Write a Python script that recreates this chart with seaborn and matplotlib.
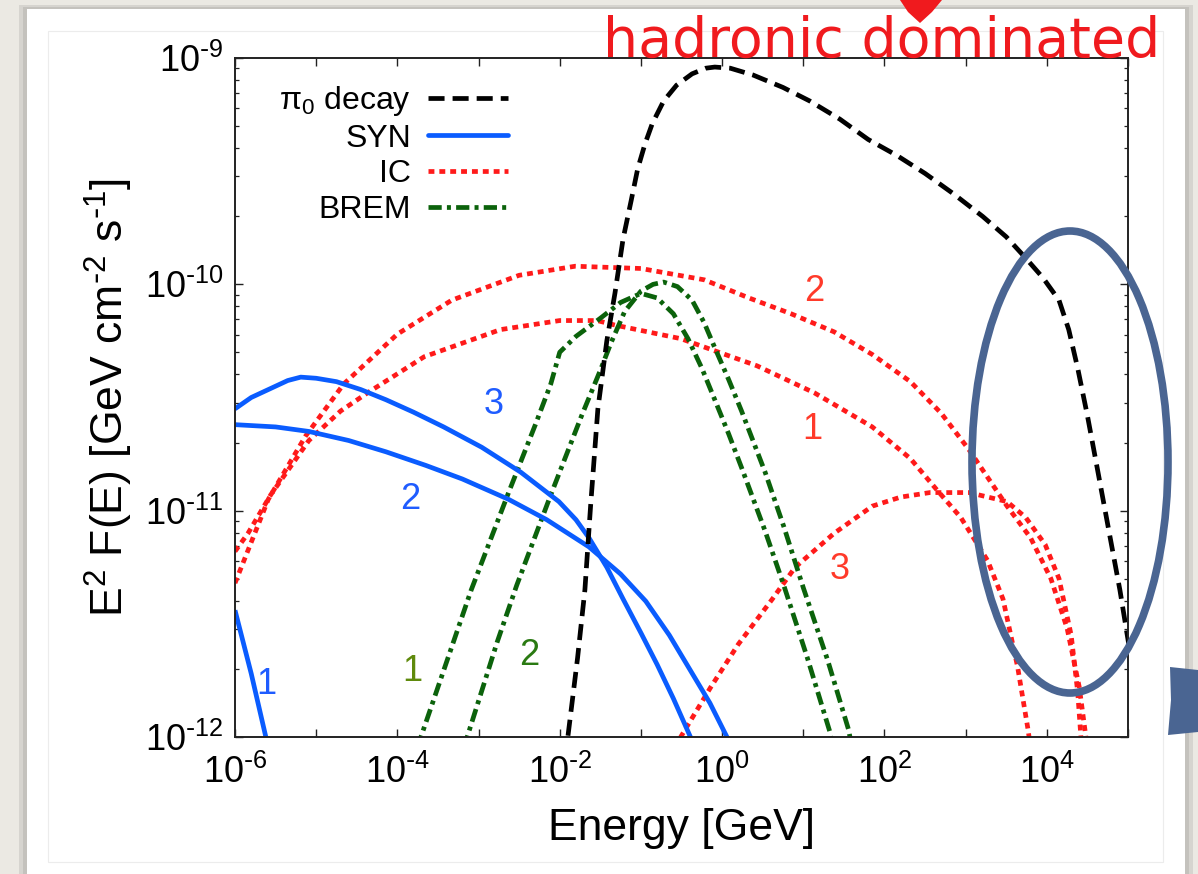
import matplotlib
matplotlib.use("Agg")
import matplotlib.pyplot as plt
import numpy as np
import pandas as pd
import seaborn as sns
from matplotlib.lines import Line2D
from matplotlib.patches import Ellipse, Polygon, Rectangle
from matplotlib.ticker import FixedLocator, FuncFormatter, LogLocator, NullLocator

sns.set_style("ticks")
plt.rcParams["font.family"] = ["Liberation Sans", "DejaVu Sans"]
plt.rcParams["mathtext.default"] = "regular"
plt.rcParams["text.color"] = "black"
plt.rcParams["axes.labelcolor"] = "black"

# values: log10(E / GeV) and log10(E^2 F(E) / GeV cm-2 s-1)
pi0_loge = [-1.93, -1.90, -1.78, -1.69, -1.62, -1.53, -1.42, -1.32, -1.22, -1.12, -1.04, -0.95,
            -0.86, -0.72, -0.56, -0.37, -0.2, -0.09, 0.1, 0.38, 0.75, 1.08, 1.45, 1.80, 2.15,
            2.50, 2.85, 3.21, 3.5, 3.73, 3.95, 4.15, 4.27, 4.38, 4.5, 4.62, 4.76, 4.90, 5.0, 5.05]
pi0_logf = [-12.1, -12.0, -11.65, -11.35, -10.98, -10.55, -10.25, -10.04, -9.80, -9.63, -9.49, -9.38,
            -9.29, -9.19, -9.12, -9.07, -9.045, -9.04, -9.045, -9.075, -9.13, -9.19, -9.27, -9.36, -9.43,
            -9.51, -9.6, -9.70, -9.79, -9.88, -9.97, -10.07, -10.2, -10.37, -10.58, -10.81, -11.08, -11.35, -11.57, -11.68]

syn1_loge = [-6.0, -5.8, -5.62, -5.59]
syn1_logf = [-11.44, -11.72, -12.0, -12.05]
syn2_loge = [-6.0, -5.5, -5.09, -4.6, -4.14, -3.65, -3.2, -2.63, -2.16, -1.64, -1.25, -0.94,
             -0.65, -0.4, -0.15, 0.06, 0.1]
syn2_logf = [-10.62, -10.63, -10.65, -10.69, -10.74, -10.8, -10.86, -10.95, -11.04, -11.16, -11.28, -11.40,
             -11.55, -11.7, -11.85, -12.0, -12.05]
syn3_loge = [-6.0, -5.8, -5.56, -5.35, -5.19, -5.0, -4.75, -4.45, -4.14, -3.8, -3.43, -2.96, -2.48,
             -2.01, -1.8, -1.64, -1.42, -1.22, -1.0, -0.8, -0.6, -0.39, -0.35]
syn3_logf = [-10.55, -10.5, -10.46, -10.425, -10.41, -10.415, -10.43, -10.465, -10.51, -10.565, -10.63, -10.72, -10.83,
             -10.96, -11.04, -11.12, -11.25, -11.39, -11.54, -11.68, -11.83, -12.0, -12.05]

ic1_loge = [-6.0, -5.84, -5.56, -5.09, -4.7, -4.37, -3.67, -2.73, -2.0, -1.54, -1.32, -0.51, 0.43,
            1.14, 1.85, 2.32, 2.65, 2.94, 3.27, 3.46, 3.64, 3.77, 3.8]
ic1_logf = [-11.18, -11.10, -10.93, -10.69, -10.56, -10.48, -10.32, -10.20, -10.16, -10.16, -10.18, -10.24, -10.36,
            -10.48, -10.63, -10.77, -10.91, -11.03, -11.22, -11.39, -11.69, -11.97, -12.05]
ic2_loge = [-6.0, -5.59, -5.13, -4.66, -4.0, -3.33, -2.5, -1.81, -1.0, -0.22, 0.33, 0.85, 1.38,
            1.85, 2.32, 2.7, 3.04, 3.51, 3.8, 4.05, 4.25, 4.4, 4.5]
ic2_logf = [-11.32, -10.95, -10.67, -10.44, -10.22, -10.07, -9.96, -9.92, -9.93, -9.98, -10.06, -10.13, -10.21,
            -10.31, -10.43, -10.57, -10.73, -10.98, -11.12, -11.3, -11.52, -11.78, -12.05]
ic3_loge = [-0.55, -0.51, -0.14, 0.2, 0.62, 0.9, 1.38, 1.85, 2.2, 2.56, 3.04, 3.51, 3.74, 3.98,
            4.15, 4.3, 4.38, 4.43]
ic3_logf = [-12.05, -12.0, -11.78, -11.59, -11.39, -11.25, -11.10, -10.98, -10.94, -10.92, -10.92, -10.96, -11.03, -11.15,
            -11.3, -11.55, -11.8, -12.05]

brem1_loge = [-3.74, -3.71, -3.09, -2.63, -2.3, -2.11, -2.0, -1.8, -1.5, -1.25, -1.0, -0.8, -0.6,
              -0.42, -0.25, -0.09, 0.08, 0.24, 0.53, 0.76, 1.05, 1.33, 1.36]
brem1_logf = [-12.05, -12.0, -11.35, -10.92, -10.62, -10.44, -10.3, -10.23, -10.15, -10.08, -10.04, -10.06, -10.13,
              -10.24, -10.37, -10.51, -10.66, -10.81, -11.09, -11.33, -11.65, -11.98, -12.05]
brem2_loge = [-3.17, -3.14, -2.77, -2.53, -2.11, -1.73, -1.5, -1.37, -1.2, -1.0, -0.85, -0.72, -0.55,
              -0.37, -0.22, -0.09, 0.08, 0.24, 0.53, 0.76, 1.0, 1.3, 1.56, 1.6]
brem2_logf = [-12.05, -12.0, -11.58, -11.33, -10.93, -10.58, -10.38, -10.26, -10.12, -10.03, -10.0, -9.99, -10.01,
              -10.07, -10.17, -10.28, -10.42, -10.56, -10.83, -11.07, -11.34, -11.66, -11.97, -12.05]

legend_labels = ["π$_0$ decay", "SYN", "IC", "BREM"]

# curve number labels: text, log10 E, log10 F
syn_tags = [("1", -5.61, -11.77), ("2", -3.84, -10.95), ("3", -2.82, -10.53)]
ic_tags = [("2", 1.14, -10.03), ("1", 1.11, -10.64), ("3", 1.45, -11.26)]
brem_tags = [("1", -3.81, -11.71), ("2", -2.37, -11.64)]

rows = []
for comp, run, le, lf in [
    ("pi0", 1, pi0_loge, pi0_logf),
    ("SYN", 1, syn1_loge, syn1_logf), ("SYN", 2, syn2_loge, syn2_logf), ("SYN", 3, syn3_loge, syn3_logf),
    ("IC", 1, ic1_loge, ic1_logf), ("IC", 2, ic2_loge, ic2_logf), ("IC", 3, ic3_loge, ic3_logf),
    ("BREM", 1, brem1_loge, brem1_logf), ("BREM", 2, brem2_loge, brem2_logf),
]:
    for a, b in zip(le, lf):
        rows.append({"comp": comp, "run": run, "E": 10.0 ** a, "F": 10.0 ** b})
df = pd.DataFrame(rows)

styles = {
    "pi0": dict(color="black", linestyle=(0, (3.4, 1.7))),
    "SYN": dict(color="#0a5cff", linestyle="-"),
    "IC": dict(color="#ff1a1a", linestyle=(0, (1.25, 1.05))),
    "BREM": dict(color="#0b620b", linestyle=(0, (2.8, 1.1, 0.85, 1.1))),
}
LW = 3.4

W, H = 1198, 874
fig = plt.figure(figsize=(W / 100, H / 100), dpi=100)
fig.patch.set_facecolor("#ebe9e3")


def px(x, y):
    return (x / 100, (H - y) / 100)


tr = fig.dpi_scale_trans
# slide card with a soft shadow
fig.patches.append(Rectangle(px(19, H + 5), 1174 / 100, (H + 5 - 5) / 100, transform=tr,
                             facecolor="#c9c7c2", edgecolor="none", alpha=0.6, zorder=-12))
fig.patches.append(Rectangle(px(23, H + 5), 1166 / 100, (H + 5 - 7) / 100, transform=tr,
                             facecolor="#b9b7b2", edgecolor="none", alpha=0.6, zorder=-11))
fig.patches.append(Rectangle(px(27, H + 5), 1158 / 100, (H + 5 - 9) / 100, transform=tr,
                             facecolor="white", edgecolor="none", zorder=-10))
fig.patches.append(Rectangle(px(48, 862), 1115 / 100, 831 / 100, transform=tr,
                             facecolor="none", edgecolor="#ececec", lw=0.8, zorder=-9))

ax = fig.add_axes([235 / W, 1 - 737 / H, 893 / W, 679 / H])
ax.set_xscale("log")
ax.set_yscale("log")

for comp in ["IC", "BREM", "SYN", "pi0"]:
    sns.lineplot(data=df[df["comp"] == comp], x="E", y="F", units="run", estimator=None,
                 ax=ax, lw=LW, solid_capstyle="butt", dash_capstyle="butt",
                 legend=False, **styles[comp])

ax.set_xlim(1e-6, 1e5)
ax.set_ylim(1e-12, 1e-9)

for text, le, lf in syn_tags:
    ax.text(10 ** le, 10 ** lf, text, color="#1f5cff", fontsize=26, ha="center", va="center")
for text, le, lf in ic_tags:
    ax.text(10 ** le, 10 ** lf, text, color="#ff3a2a", fontsize=26, ha="center", va="center")
for (text, le, lf), c in zip(brem_tags, ["#5f8a0c", "#2a7a12"]):
    ax.text(10 ** le, 10 ** lf, text, color=c, fontsize=26, ha="center", va="center")


def pow_label(v):
    n = int(round(np.log10(v)))
    return "$10^{%d}$" % n if n >= 0 else "$10^{\\text{-}%d}$" % -n


ax.xaxis.set_major_locator(FixedLocator(10.0 ** np.arange(-6, 6)))
ax.xaxis.set_minor_locator(NullLocator())
ax.xaxis.set_major_formatter(FuncFormatter(
    lambda v, _: pow_label(v) if round(np.log10(v)) % 2 == 0 else ""))
ax.yaxis.set_major_locator(FixedLocator(10.0 ** np.arange(-12, -8)))
ax.yaxis.set_minor_locator(LogLocator(base=10, subs=np.arange(2, 10)))
ax.yaxis.set_major_formatter(FuncFormatter(lambda v, _: pow_label(v)))

ax.tick_params(which="both", direction="in", top=True, right=True, colors="#222222")
ax.tick_params(which="major", length=6, width=1.0, labelsize=26, labelcolor="black")
ax.tick_params(which="minor", length=3, width=0.9)
ax.tick_params(axis="x", pad=13)
ax.tick_params(axis="y", pad=8)
for s in ax.spines.values():
    s.set_linewidth(1.4)
    s.set_color("#222222")

ax.set_xlabel("Energy [GeV]", fontsize=32, labelpad=12)
ax.set_ylabel("E$^2$ F(E) [GeV cm$^{\\text{-}2}$ s$^{\\text{-}1}$]", fontsize=32, labelpad=7)

handles = [Line2D([], [], lw=LW, **styles[k]) for k in ["pi0", "SYN", "IC", "BREM"]]
ax.legend(handles, legend_labels, loc="upper right", bbox_to_anchor=(0.306, 0.962),
          frameon=False, markerfirst=False, fontsize=23, handlelength=2.5,
          handletextpad=0.55, labelspacing=0.18, borderpad=0, borderaxespad=0,
          labelcolor="black")

# slide annotations
fig.text(603 / W, 1 - 57 / H, "hadronic dominated", color="#f01a1e", fontsize=40,
         family="DejaVu Sans", va="baseline", ha="left", zorder=10)
fig.patches.append(Polygon([px(900, 0), px(942, 0), px(932, 12), px(920, 23), px(908, 12)],
                           closed=True, transform=tr, facecolor="#f01a1e", edgecolor="none", zorder=10))
fig.patches.append(Ellipse(px(1070, 462), 196 / 100, 462 / 100, angle=0, transform=tr,
                           facecolor="none", edgecolor="#4a6592", lw=5.5, zorder=10))
fig.patches.append(Polygon([px(1170, 667), px(1198, 670), px(1198, 732), px(1168, 735), px(1171, 700)],
                           closed=True, transform=tr, facecolor="#4a6592", edgecolor="none", zorder=10))

fig.savefig("out.png", dpi=100, facecolor=fig.get_facecolor())
